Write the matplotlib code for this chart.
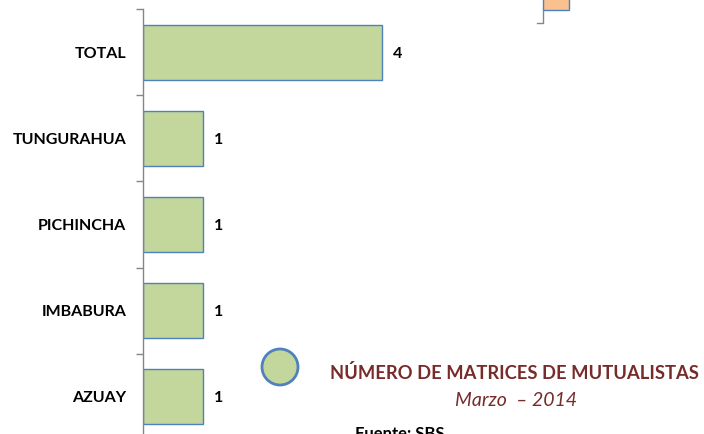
import matplotlib.pyplot as plt
from matplotlib.patches import Ellipse, Rectangle
from matplotlib.lines import Line2D

# datos
provincias = ['AZUAY', 'IMBABURA', 'PICHINCHA', 'TUNGURAHUA', 'TOTAL']
matrices = [1, 1, 1, 1, 4]

verde = '#C3D69B'
azul = '#4F81BD'
gris = '#868686'
granate = '#772C2A'

plt.rcParams['font.family'] = ['Lato', 'DejaVu Sans']

fig = plt.figure(figsize=(7.04, 4.34), dpi=100)
W, H = 704, 434

# eje: de y=9.5 px a y=439.5 px (se sale por abajo), x desde 143 px
ax = fig.add_axes([143 / W, (H - 439.5) / H, 5 * 59.75 / W, 430 / H])
ax.barh(range(len(provincias)), matrices, height=0.64, color=verde,
        edgecolor=azul, linewidth=1)
ax.set_xlim(0, 5)
ax.set_ylim(-0.5, len(provincias) - 0.5)

ax.set_yticks(range(len(provincias)))
ax.set_yticklabels(provincias, fontsize=11.5, fontweight='bold')
ax.set_yticks([i - 0.5 for i in range(len(provincias) + 1)], minor=True)
ax.tick_params(axis='y', which='major', length=0, pad=12)
ax.tick_params(axis='y', which='minor', length=5, color=gris, width=1)
ax.set_xticks([])
for s in ['top', 'right', 'bottom']:
    ax.spines[s].set_visible(False)
ax.spines['left'].set_color(gris)
ax.spines['left'].set_linewidth(1)

for i, v in enumerate(matrices):
    ax.annotate(str(v), (v, i), xytext=(8, 0), textcoords='offset points',
                va='center_baseline', ha='left', fontsize=11.5, fontweight='bold')

# circulo de leyenda
fig.patches.append(Ellipse((280 / W, 1 - 367 / H), 36 / W, 36 / H, transform=fig.transFigure,
                           facecolor=verde, edgecolor=azul, linewidth=2))
# restos de otro elemento arriba a la derecha
fig.patches.append(Rectangle((543 / W, 1 - 10 / H), 26 / W, 12 / H,
                             transform=fig.transFigure, facecolor='#FAC090',
                             edgecolor=azul, linewidth=1))
fig.lines.append(Line2D([537 / W, 543 / W, 543 / W], [1 - 22.5 / H, 1 - 22.5 / H, 1 - 10 / H],
                        transform=fig.transFigure, color=gris, linewidth=1))

fig.text(514 / W, 1 - 373 / H, 'NÚMERO DE MATRICES DE MUTUALISTAS', ha='center',
         va='center', fontsize=13.2, fontweight='bold', color=granate)
fig.text(516 / W, 1 - 401 / H, 'Marzo  – 2014', ha='center', va='center',
         fontsize=14, fontstyle='italic', color=granate)
# la fuente queda cortada por el borde inferior, como en la original
fig.text(355 / W, 1 - 426 / H, 'Fuente: SBS', ha='left', va='top',
         fontsize=12, fontweight='bold', color='black')

fig.savefig('out.png', dpi=100)
